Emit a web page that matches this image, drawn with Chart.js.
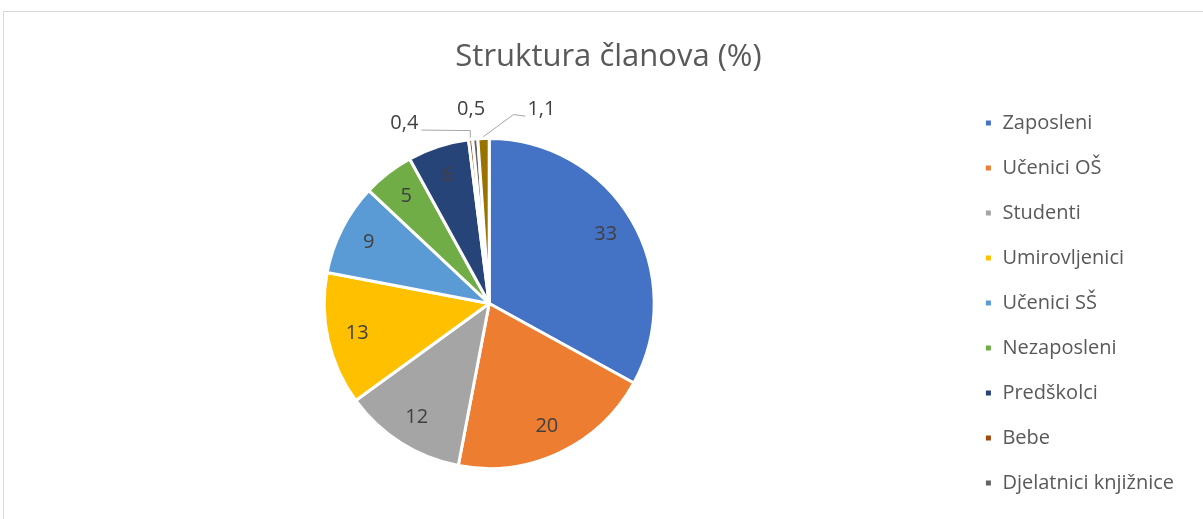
<!DOCTYPE html>
<html>
<head>
<meta charset="utf-8">
<script src="https://cdn.jsdelivr.net/npm/chart.js@4.4.1/dist/chart.umd.min.js"></script>
<style>
  html, body { margin: 0; padding: 0; background: #fff; font-family: "Open Sans"; }
  #wrap { width: 1203px; height: 519px; position: relative; }
</style>
</head>
<body>
<div id="wrap"><canvas id="struktura"></canvas></div>
<script>
const kategorije = ["Zaposleni", "Učenici OŠ", "Studenti", "Umirovljenici", "Učenici SŠ",
  "Nezaposleni", "Predškolci", "Bebe", "Djelatnici knjižnice", "Ostali"];
const udjeli = [33, 20, 12, 13, 9, 5, 6, 0.4, 0.5, 1.1];
const boje = ['#4472C4', '#ED7D31', '#A5A5A5', '#FFC000', '#5B9BD5',
  '#70AD47', '#264478', '#9E480E', '#636363', '#997300'];

// small slices get their label outside, with a leader line where Excel drew one
const vanjske = {
  7: { dx: -66, dy: -14.5, lakat: [0, -7], kraj: 'desno' },
  8: { dx: -4, dy: -27.5 },
  9: { dx: 58, dy: -27.5, lakat: [30, -22], kraj: 'lijevo' }
};

const okvir = {
  id: 'okvir',
  beforeDraw(chart) {
    const c = chart.ctx;
    c.save();
    c.strokeStyle = '#d9d9d9';
    c.lineWidth = 1;
    c.strokeRect(3.5, 11.5, 1400, 700);
    c.restore();
  },
  // title is centred on the whole chart box, not only between paddings
  afterLayout(chart) {
    const t = chart.titleBlock;
    if (t) { t.left += 7; t.right += 7; }
  }
};

const oznake = {
  id: 'oznake',
  afterDatasetsDraw(chart) {
    const c = chart.ctx;
    const meta = chart.getDatasetMeta(0);
    c.save();
    c.font = '20px "Open Sans"';
    c.fillStyle = '#404040';
    c.textAlign = 'center';
    c.textBaseline = 'middle';
    meta.data.forEach((arc, i) => {
      const p = arc.getProps(['x', 'y', 'startAngle', 'endAngle', 'outerRadius'], true);
      const mid = (p.startAngle + p.endAngle) / 2;
      const txt = String(udjeli[i]).replace('.', ',');
      const v = vanjske[i];
      if (!v) {
        const r = p.outerRadius * 0.82;
        c.fillText(txt, p.x + Math.cos(mid) * r, p.y + Math.sin(mid) * r);
        return;
      }
      const r0 = p.outerRadius + 2;
      const x0 = p.x + Math.cos(mid) * r0, y0 = p.y + Math.sin(mid) * r0;
      const lx = x0 + v.dx, ly = y0 + v.dy;
      c.fillText(txt, lx, ly);
      if (v.lakat) {
        const w = c.measureText(txt).width;
        const ex = v.kraj === 'desno' ? lx + w / 2 + 3 : lx - w / 2 - 2;
        c.beginPath();
        c.strokeStyle = '#a6a6a6';
        c.lineWidth = 1;
        c.moveTo(x0, y0);
        c.lineTo(x0 + v.lakat[0], y0 + v.lakat[1]);
        c.lineTo(ex, ly + 7);
        c.stroke();
      }
    });
    c.restore();
  }
};

function nacrtaj() {
  new Chart(document.getElementById('struktura'), {
    type: 'pie',
    data: {
      labels: kategorije,
      datasets: [{
        data: udjeli,
        backgroundColor: boje,
        borderColor: '#ffffff',
        borderWidth: 3,
        radius: 165
      }]
    },
    plugins: [okvir, oznake],
    options: {
      responsive: true,
      maintainAspectRatio: false,
      animation: false,
      layout: { padding: { left: 19, right: 19, top: 0, bottom: -1 } },
      plugins: {
        title: {
          display: true,
          text: 'Struktura članova (%)',
          color: '#595959',
          font: { family: '"Open Sans"', size: 31, weight: 'normal' },
          padding: { top: 38.5, bottom: 12.3 }
        },
        legend: {
          position: 'right',
          align: 'start',
          fullSize: false,
          labels: {
            boxWidth: 8,
            boxHeight: 8,
            padding: 25,
            color: '#595959',
            font: { family: '"Open Sans"', size: 20 },
            filter: (item) => item.index < 9
          }
        },
        tooltip: { enabled: false }
      }
    }
  });
}

Promise.all([
  document.fonts.load('20px "Open Sans"', 'Učenici knjižnice'),
  document.fonts.load('31px "Open Sans"', 'Struktura članova')
]).then(nacrtaj, nacrtaj);
</script>
</body>
</html>
